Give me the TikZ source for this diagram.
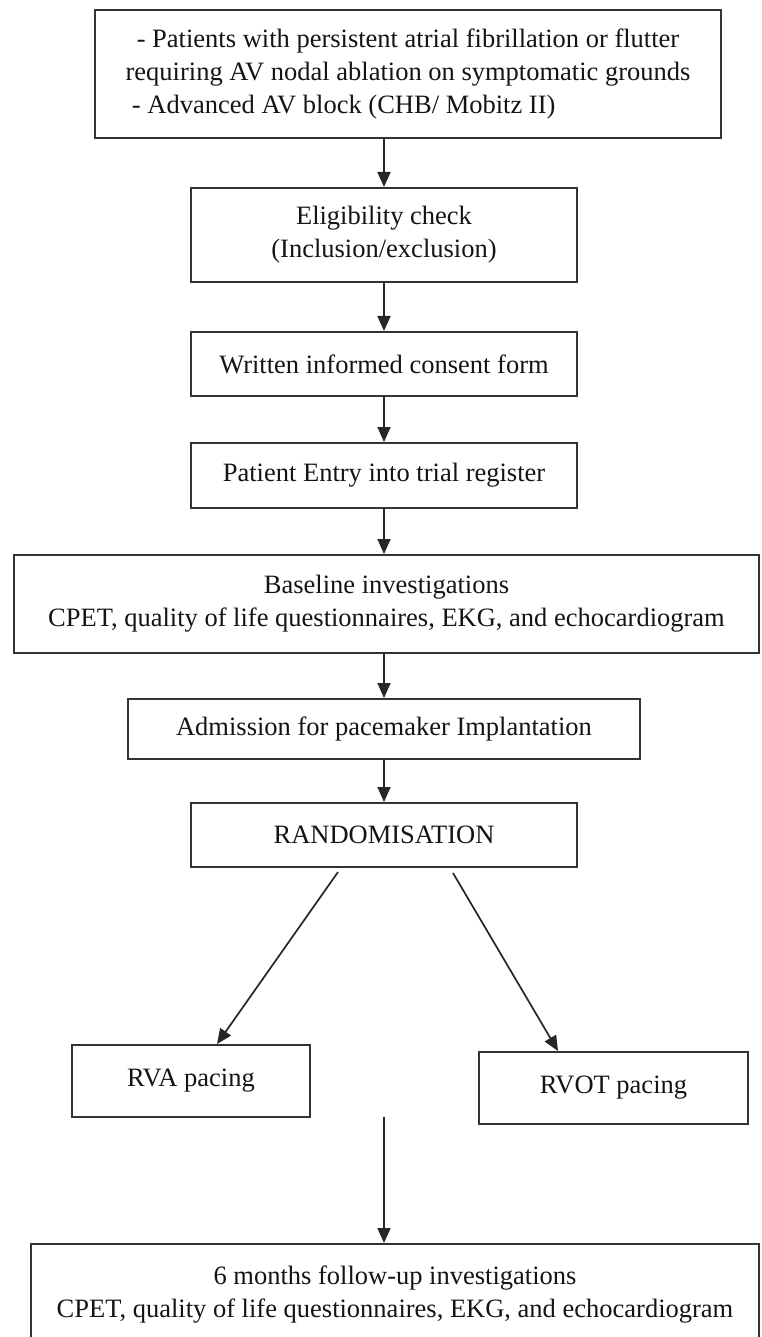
\documentclass[tikz,border=0pt]{standalone}
\usepackage{fontspec}
\setmainfont{Liberation Serif}
\usetikzlibrary{arrows.meta,calc}
\begin{document}
\begin{tikzpicture}[x=1bp,y=-1bp,
  box/.style={draw=black!80, line width=2bp, fill=white, inner sep=0pt,
    font=\fontsize{26.5bp}{33bp}\selectfont, text=black!92, align=center},
  arr/.style={draw=black!85, line width=1.7bp, -{Triangle[length=15bp,width=13bp]}}]
\fill[white] (0,0) rectangle (761,1337);
\useasboundingbox (0,0) rectangle (761,1337);

\node[box, align=none, text width=590bp, inner xsep=18bp, minimum width=626bp, minimum height=128bp] (b1) at (408,74)
  {{\centering - Patients with persistent atrial fibrillation or flutter\\ requiring AV nodal ablation on symptomatic grounds\par}\noindent\hspace*{19bp}- Advanced AV block (CHB/ Mobitz II)\par};
\node[box, minimum width=386bp, minimum height=94bp] (b2) at (384,235) {Eligibility check\\(Inclusion/exclusion)};
\node[box, minimum width=386bp, minimum height=64bp] (b3) at (384,364) {Written informed consent form};
\node[box, minimum width=386bp, minimum height=65bp] (b4) at (384,475.5) {Patient Entry into trial register};
\node[box, minimum width=745bp, minimum height=98bp] (b5) at (386.5,604) {Baseline investigations\\CPET, quality of life questionnaires, EKG, and echocardiogram};
\node[box, minimum width=512bp, minimum height=60bp] (b6) at (384,729) {Admission for pacemaker Implantation};
\node[box, minimum width=386bp, minimum height=64bp] (b7) at (384,835) {RANDOMISATION};
\node[box, minimum width=238bp, minimum height=72bp] (rva) at (191,1081) {RVA pacing};
\node[box, minimum width=269bp, minimum height=72bp] (rvot) at (613.5,1088) {RVOT pacing};
\node[box, minimum width=728bp, minimum height=101bp] (fin) at (395,1294.5) {6 months follow-up investigations\\CPET, quality of life questionnaires, EKG, and echocardiogram};

\coordinate (ls) at (338,872);
\coordinate (rs) at (453,873);
\coordinate (vs) at (384,1117);

\draw[arr] (b1.south -| b2.north) -- (b2.north);
\draw[arr] (b2.south) -- (b3.north);
\draw[arr] (b3.south) -- (b4.north);
\draw[arr] (b4.south) -- (b4.south |- b5.north);
\draw[arr] (b6.north |- b5.south) -- (b6.north);
\draw[arr] (b6.south) -- (b7.north);
\draw[arr] (ls) -- ([xshift=146bp]rva.north west);
\draw[arr] (rs) -- ([xshift=80bp]rvot.north west);
\draw[arr] (vs) -- (vs |- fin.north);
\end{tikzpicture}
\end{document}
